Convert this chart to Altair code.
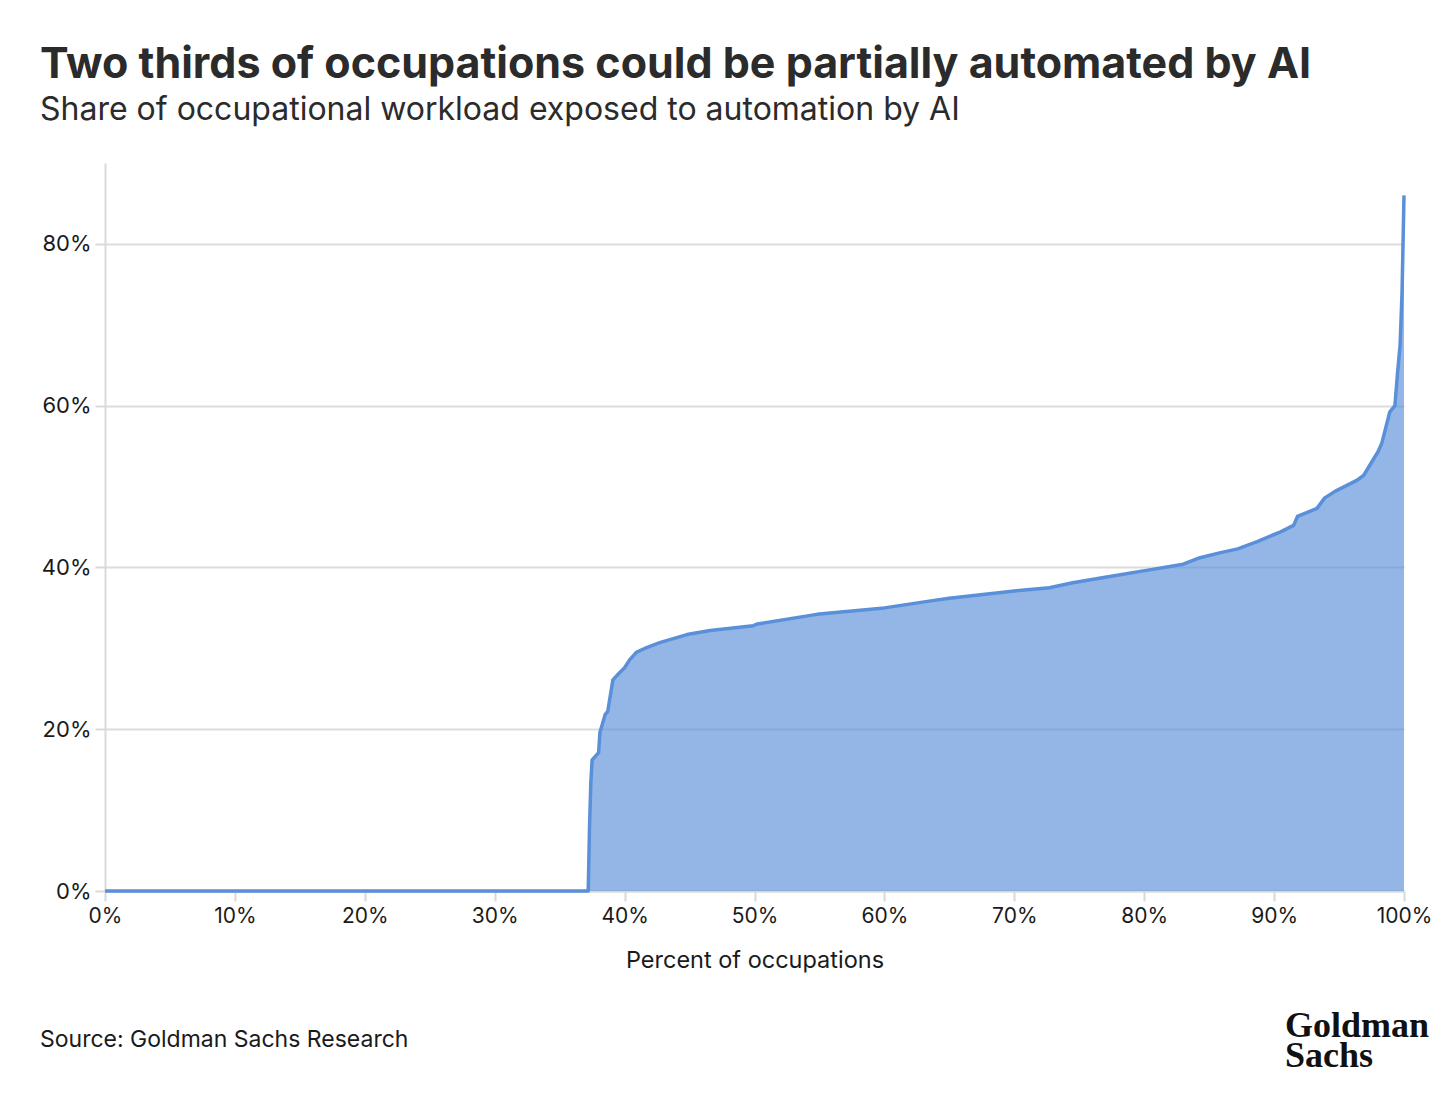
import altair as alt
import pandas as pd

# Percent of occupations (x, %) and share of workload exposed (y, %)
pct = [0, 37.2, 37.3, 37.4, 37.5, 38.0, 38.1, 38.5, 38.7, 39.1, 39.5, 40.0, 40.4,
       40.9, 41.7, 42.7, 44.8, 45.8, 46.6, 49.9, 50.2, 54.8, 60.0, 63.7, 65.0,
       70.0, 72.7, 74.5, 77.0, 80.4, 83.0, 84.3, 85.8, 87.2, 88.7, 90.5, 91.5,
       91.8, 93.3, 93.9, 94.8, 96.4, 96.9, 98.0, 98.3, 98.9, 99.3, 99.5, 99.7,
       99.85, 100]
share = [0, 0, 8.0, 13.4, 16.2, 17.1, 19.6, 21.8, 22.2, 26.1, 26.8, 27.6, 28.6,
         29.5, 30.1, 30.7, 31.7, 32.0, 32.2, 32.8, 33.0, 34.2, 35.0, 35.9, 36.2,
         37.1, 37.5, 38.1, 38.8, 39.7, 40.4, 41.2, 41.8, 42.3, 43.2, 44.4, 45.2,
         46.3, 47.3, 48.6, 49.5, 50.8, 51.4, 54.3, 55.4, 59.2, 60.0, 64.0, 67.5,
         74.0, 86.0]

title_text = "Two thirds of occupations could be partially automated by AI"
subtitle_text = "Share of occupational workload exposed to automation by AI"
source_text = "Source: Goldman Sachs Research"
logo_lines = ["Goldman", "Sachs"]
x_title = "Percent of occupations"

df = pd.DataFrame({"pct": pct, "share": share})

W, H = 1299, 728
FONT = "Inter"
BLUE = "#5a8fd9"

x_enc = alt.X("pct:Q", scale=alt.Scale(domain=[0, 100], nice=False),
              axis=alt.Axis(values=list(range(0, 101, 10)), labelExpr="datum.value + '%'",
                            grid=False, domain=True, domainColor="#d9d9d9", domainWidth=2,
                            tickColor="#d9d9d9", tickWidth=2, tickSize=10,
                            labelFontSize=21, labelFont=FONT, labelColor="#1a1a1a",
                            labelPadding=4, labelFlush=False, title=x_title, titleFont=FONT,
                            titleFontSize=23.5, titleFontWeight="normal",
                            titleColor="#1a1a1a", titlePadding=22))
y_enc = alt.Y("share:Q", scale=alt.Scale(domain=[0, 90], nice=False),
              axis=alt.Axis(values=[0, 20, 40, 60, 80], labelExpr="datum.value + '%'",
                            grid=True, gridColor="#dcdcdc", gridWidth=2,
                            domain=True, domainColor="#d9d9d9", domainWidth=2,
                            tickColor="#d9d9d9", tickWidth=2, tickSize=10,
                            labelFontSize=22, labelFont=FONT, labelColor="#1a1a1a",
                            labelPadding=4, title=None))

area = alt.Chart(df).mark_area(color=BLUE, fillOpacity=0.65, interpolate="linear").encode(
    x=x_enc, y=y_enc)
line = alt.Chart(df).mark_line(color=BLUE, strokeWidth=3.5, interpolate="linear",
                               strokeJoin="round").encode(x="pct:Q", y="share:Q")

one = alt.Data(values=[{"a": 1}])

def txt(text, x, y, size, weight="normal", color="#1a1a1a", font=FONT, align="left",
        line_height=None):
    kw = dict(text=text, fontSize=size, fontWeight=weight, color=color, font=font,
              align=align, baseline="alphabetic")
    if line_height is not None:
        kw["lineHeight"] = line_height
    return alt.Chart(one).mark_text(**kw).encode(x=alt.value(x), y=alt.value(y))

LOGO_FONT = "Liberation Serif"
layers = [
    area, line,
    txt(title_text, -65, -85, 43, "bold", "#2b2b2b"),
    txt(subtitle_text, -65, -43, 32, "normal", "#2b2b2b"),
    txt(source_text, -65, 884, 23),
    txt(logo_lines, 1180, 874, 36, "bold", "#111111", LOGO_FONT, line_height=30),
]

chart = alt.layer(*layers).properties(
    width=W, height=H,
    autosize=alt.AutoSizeParams(type="none"),
    padding={"left": 97, "top": 155, "right": 40, "bottom": 190},
).configure(background="white").configure_view(stroke=None)

chart.save("out.html", embed_options={"renderer": "svg", "actions": False})
